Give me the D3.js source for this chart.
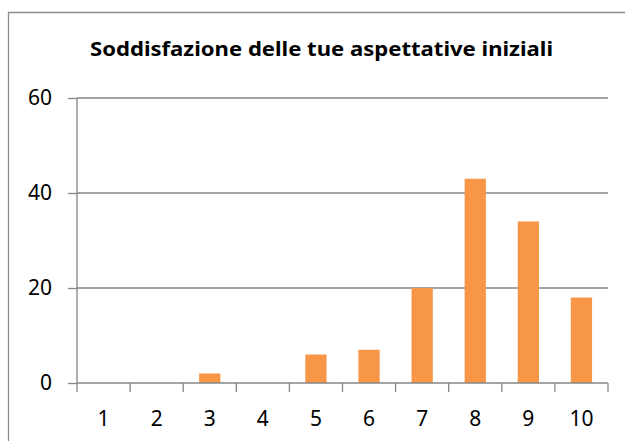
<!DOCTYPE html>
<html>
<head>
<meta charset="utf-8">
<script src="https://cdn.jsdelivr.net/npm/d3@7"></script>
<style>
  body { margin: 0; background: #fff; }
  svg { display: block; }
  text { font-family: "Noto Sans", sans-serif; fill: #000; font-variant-ligatures: none; }
</style>
</head>
<body>
<div id="chart"></div>
<script>
const categories = ["1", "2", "3", "4", "5", "6", "7", "8", "9", "10"];
const values = [0, 0, 2, 0, 6, 7, 20, 43, 34, 18];
const yTicks = [0, 20, 40, 60];
const title = "Soddisfazione delle tue aspettative iniziali";

const width = 625, height = 441;
const margin = { top: 98, right: 17, bottom: 58, left: 77 };
const innerWidth = width - margin.left - margin.right;
const innerHeight = height - margin.top - margin.bottom;

const data = categories.map((c, i) => ({ cat: c, value: values[i] }));

const svg = d3.select("#chart")
    .append("svg")
    .attr("width", width)
    .attr("height", height);

// chart frame: only the left and top edges are inside the picture
svg.append("line")
    .attr("x1", 8.5).attr("x2", 8.5)
    .attr("y1", 12).attr("y2", height)
    .attr("stroke", "#8c8c8c")
    .attr("stroke-width", 1.3);
svg.append("line")
    .attr("x1", 8).attr("x2", width)
    .attr("y1", 12.5).attr("y2", 12.5)
    .attr("stroke", "#8c8c8c")
    .attr("stroke-width", 1.3);

const xScale = d3.scaleBand()
    .domain(categories)
    .range([0, innerWidth])
    .paddingInner(0.6)
    .paddingOuter(0.3);

const yScale = d3.scaleLinear()
    .domain([0, 60])
    .range([innerHeight, 0]);

const inner = svg.append("g")
    .attr("transform", `translate(${margin.left}, ${margin.top})`);

// gridlines
inner.selectAll(".grid")
    .data(yTicks.filter(d => d > 0))
    .join("line")
    .attr("class", "grid")
    .attr("x1", 0)
    .attr("x2", innerWidth)
    .attr("y1", d => yScale(d))
    .attr("y2", d => yScale(d))
    .attr("stroke", "#868686")
    .attr("stroke-width", 1.3);

// bars
inner.selectAll(".bar")
    .data(data)
    .join("rect")
    .attr("class", "bar")
    .attr("x", d => xScale(d.cat))
    .attr("width", xScale.bandwidth())
    .attr("y", d => yScale(d.value))
    .attr("height", d => innerHeight - yScale(d.value))
    .attr("fill", "#f79646");

// y axis
const leftAxis = d3.axisLeft(yScale)
    .tickValues(yTicks)
    .tickSize(9)
    .tickPadding(16);

const yAxisG = inner.append("g").call(leftAxis);
yAxisG.select(".domain").remove();
yAxisG.append("line")
    .attr("x1", 0).attr("x2", 0)
    .attr("y1", 0).attr("y2", innerHeight)
    .attr("stroke", "#868686")
    .attr("stroke-width", 1.3);
yAxisG.selectAll(".tick line").attr("stroke", "#868686").attr("stroke-width", 1.3);
yAxisG.selectAll(".tick text")
    .attr("font-size", 21)
    .attr("font-family", "'Noto Sans', sans-serif")
    .attr("fill", "#000");

// x axis line and boundary ticks
const step = xScale.step();
const bounds = d3.range(categories.length + 1).map(i => i * step);

inner.append("line")
    .attr("x1", 0)
    .attr("x2", innerWidth)
    .attr("y1", innerHeight)
    .attr("y2", innerHeight)
    .attr("stroke", "#868686")
    .attr("stroke-width", 1.3);

inner.selectAll(".xtick")
    .data(bounds)
    .join("line")
    .attr("class", "xtick")
    .attr("x1", d => d)
    .attr("x2", d => d)
    .attr("y1", innerHeight)
    .attr("y2", innerHeight + 9)
    .attr("stroke", "#868686")
    .attr("stroke-width", 1.3);

inner.selectAll(".xlabel")
    .data(categories)
    .join("text")
    .attr("class", "xlabel")
    .attr("x", d => xScale(d) + xScale.bandwidth() / 2)
    .attr("y", innerHeight + 43)
    .attr("text-anchor", "middle")
    .attr("font-size", 21)
    .text(d => d);

// title
svg.append("text")
    .attr("x", 321.5)
    .attr("y", 56)
    .attr("text-anchor", "middle")
    .attr("font-size", 20)
    .attr("font-weight", "bold")
    .attr("textLength", 463)
    .attr("lengthAdjust", "spacingAndGlyphs")
    .text(title);
</script>
</body>
</html>
